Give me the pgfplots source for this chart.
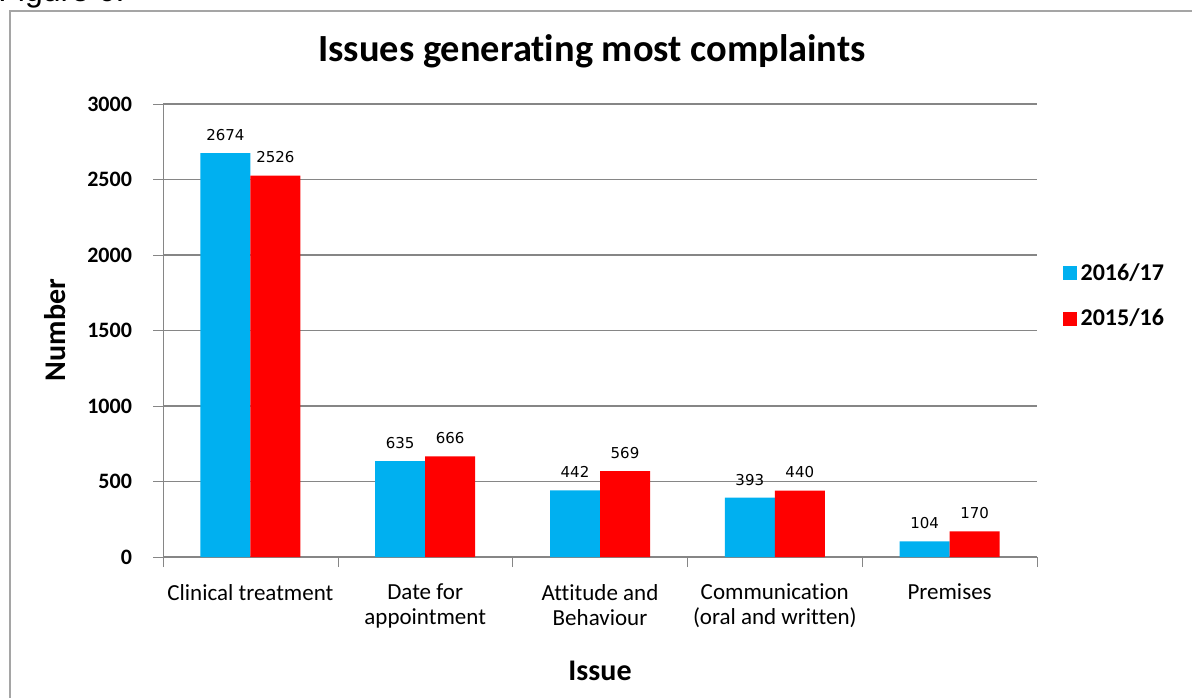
\documentclass[border=0pt]{standalone}
\usepackage{fontspec}
\setmainfont{Carlito}[Ligatures={NoCommon}]
\newfontfamily\dvs{DejaVu Sans}
\newfontfamily\arialf{Liberation Sans}
\usepackage{pgfplots}
\pgfplotsset{compat=1.18}
\definecolor{cy}{RGB}{0,176,240}
\definecolor{rd}{RGB}{255,0,0}
\definecolor{gr}{RGB}{134,134,134}
\definecolor{fr}{RGB}{165,165,165}
\begin{document}
\begin{tikzpicture}
\path[use as bounding box] (0,0) rectangle (596pt,348.5pt);
\begin{scope}
\clip (0,0) rectangle (596pt,348.5pt);
\draw[fr, line width=1pt] (5pt,-10pt) -- (5pt,343pt) -- (620pt,343pt);
\node[anchor=base west, font=\arialf\fontsize{16}{18}\selectfont, inner sep=0] at (-1pt,347.5pt) {Figure 6.};
\end{scope}
\node[anchor=base, font=\bfseries\fontsize{19.2}{22}\selectfont, inner sep=0] at (296pt,317.5pt) {Issues generating most complaints};
\node[rotate=90, font=\bfseries\fontsize{15}{17}\selectfont, inner sep=0] at (27.5pt,183.5pt) {Number};
\node[anchor=base, font=\bfseries\fontsize{15}{17}\selectfont, inner sep=0] at (300pt,8.5pt) {Issue};
\begin{axis}[
  at={(81.5pt,70pt)}, anchor=south west,
  scale only axis, width=437pt, height=226.5pt,
  ybar=0pt, bar width=25pt,
  xmin=-0.5, xmax=4.5, ymin=0, ymax=3000,
  enlarge x limits=false, enlarge y limits=false,
  clip=false,
  axis x line=bottom, axis y line=left,
  axis line style={-, draw=gr},
  tick align=outside,
  ytick={0,500,1000,1500,2000,2500,3000},
  xtick={0,1,2,3,4},
  xticklabels={Clinical treatment, Date for\\appointment, Attitude and\\Behaviour, Communication\\(oral and written), Premises},
  minor xtick={-0.5,0.5,1.5,2.5,3.5,4.5},
  major x tick style={draw=none},
  minor x tick style={draw=gr},
  major y tick style={draw=gr},
  major tick length=5pt, minor tick length=5pt,
  ymajorgrids, grid style={draw=gr, line width=0.6pt},
  yticklabel style={font=\bfseries\fontsize{11}{13}\selectfont, xshift=-7pt, /pgf/number format/assume math mode=true, /pgf/number format/1000 sep={}},
  xticklabel style={font=\fontsize{11.5}{12.5}\selectfont, align=center, yshift=-5pt},
  nodes near coords,
  point meta=explicit symbolic,
  nodes near coords style={font=\dvs\fontsize{7.5}{9}\selectfont, anchor=south, inner sep=0pt, yshift=6pt},
  legend style={at={(1.022,0.576)}, anchor=west, draw=none, fill=none, font=\bfseries\fontsize{12}{14}\selectfont, row sep=9pt, legend cell align=left},
  legend image code/.code={\fill[#1] (0pt,-3.5pt) rectangle (7pt,3.5pt);},
]
\addplot[fill=cy, draw=none] coordinates {(0,2674) [2674] (1,635) [635] (2,442) [442] (3,393) [393] (4,104) [104]};
\addplot[fill=rd, draw=none] coordinates {(0,2526) [2526] (1,666) [666] (2,569) [569] (3,440) [440] (4,170) [170]};
\legend{2016/17, 2015/16}
\end{axis}
\end{tikzpicture}
\end{document}
